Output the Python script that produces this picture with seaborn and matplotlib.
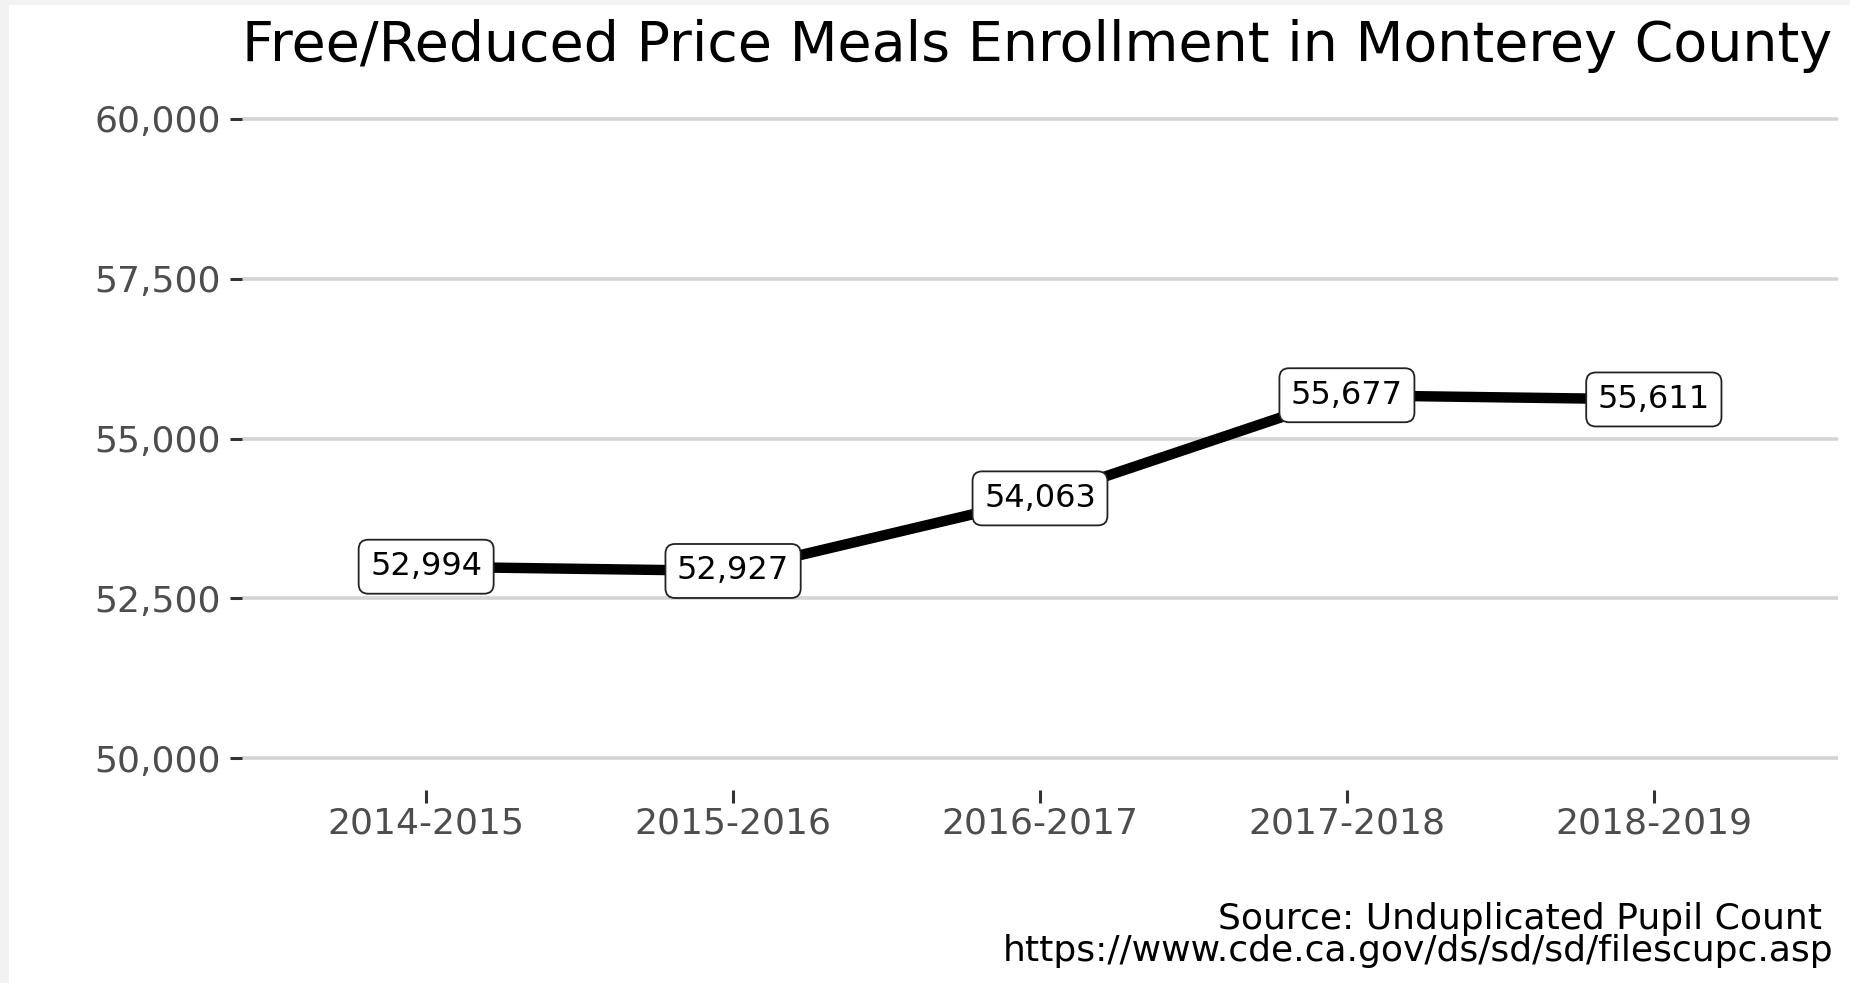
import matplotlib
matplotlib.use("Agg")
import matplotlib.pyplot as plt
from matplotlib.patches import Rectangle
from matplotlib.ticker import FuncFormatter
import seaborn as sns
import pandas as pd

# ---- data ----
years = ["2014-2015", "2015-2016", "2016-2017", "2017-2018", "2018-2019"]
enrollment = [52994, 52927, 54063, 55677, 55611]
y_ticks = [50000, 52500, 55000, 57500, 60000]
title = "Free/Reduced Price Meals Enrollment in Monterey County"
source_line1 = "Source: Unduplicated Pupil Count "
source_line2 = "https://www.cde.ca.gov/ds/sd/sd/filescupc.asp"

df = pd.DataFrame({"year": years, "enrollment": enrollment})

sns.set_theme(style="white")
plt.rcParams["font.family"] = ["DejaVu Sans"]

W, H = 1850, 983
fig = plt.figure(figsize=(W / 100, H / 100), dpi=100)
fig.patch.set_facecolor("#F2F2F2")
fig.patches.append(Rectangle((9 / W, 0), 1 - 9 / W, 1 - 5 / H, transform=fig.transFigure,
                             facecolor="white", edgecolor="none", zorder=-10))

left, right = 242 / W, 1838 / W
bottom, top = 1 - 790 / H, 1 - 87 / H
ax = fig.add_axes([left, bottom, right - left, top - bottom])
ax.set_facecolor("none")

sns.lineplot(data=df, x="year", y="enrollment", ax=ax, color="black",
             linewidth=7.5, sort=False, zorder=3)

for i, v in enumerate(df["enrollment"]):
    ax.text(i, v, f"{v:,}", ha="center", va="center", fontsize=23, color="black", zorder=5,
            bbox=dict(boxstyle="round,pad=0.36,rounding_size=0.3", facecolor="white",
                      edgecolor="#222222", linewidth=1.3))

ax.set_xlim(-0.6, len(years) - 1 + 0.6)
ax.set_ylim(49500, 60500)
ax.set_yticks(y_ticks)
ax.yaxis.set_major_formatter(FuncFormatter(lambda v, p: f"{int(v):,}"))
ax.grid(axis="y", color="#D4D4D4", linewidth=2.6)
ax.grid(axis="x", visible=False)
ax.set_axisbelow(True)
for s in ax.spines.values():
    s.set_visible(False)
ax.set_xlabel("")
ax.set_ylabel("")
ax.tick_params(axis="both", which="major", length=9, width=2.2, color="#333333",
               labelsize=26, labelcolor="#4D4D4D", pad=6, left=True, bottom=True)
ax.tick_params(axis="x", pad=3)

fig.text(left, 1 - 61 / H, title, ha="left", va="baseline", fontsize=40, color="black")
fig.text(1833 / W, 1 - 929 / H, source_line1, ha="right", va="baseline", fontsize=26, color="black")
fig.text(1833 / W, 1 - 961 / H, source_line2, ha="right", va="baseline", fontsize=26, color="black")

fig.savefig("out.png", dpi=100, facecolor=fig.get_facecolor())
